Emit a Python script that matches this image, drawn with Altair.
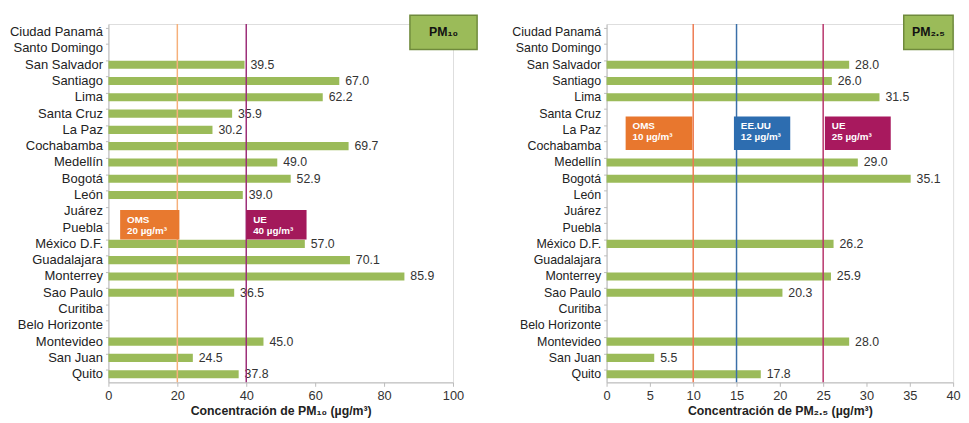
import altair as alt
import pandas as pd

cities = ["Ciudad Panamá", "Santo Domingo", "San Salvador", "Santiago", "Lima",
          "Santa Cruz", "La Paz", "Cochabamba", "Medellín", "Bogotá", "León",
          "Juárez", "Puebla", "México D.F.", "Guadalajara", "Monterrey",
          "Sao Paulo", "Curitiba", "Belo Horizonte", "Montevideo", "San Juan", "Quito"]
pm10 = [None, None, 39.5, 67.0, 62.2, 35.9, 30.2, 69.7, 49.0, 52.9, 39.0,
        None, None, 57.0, 70.1, 85.9, 36.5, None, None, 45.0, 24.5, 37.8]
pm25 = [None, None, 28.0, 26.0, 31.5, None, None, None, 29.0, 35.1, None,
        None, None, 26.2, None, 25.9, 20.3, None, None, 28.0, 5.5, 17.8]

pm10_ticks = [0, 20, 40, 60, 80, 100]
pm25_ticks = [0, 5, 10, 15, 20, 25, 30, 35, 40]

pm10_limits = [("OMS", "20 µg/m³", 20), ("UE", "40 µg/m³", 40)]
pm25_limits = [("OMS", "10 µg/m³", 10), ("EE.UU", "12 µg/m³", 15), ("UE", "25 µg/m³", 25)]

FONT = "Liberation Sans"
GREEN = "#9BBB59"
H = 364


def one_row():
    return alt.Chart(alt.Data(values=[{"a": 1}]))


def box(x0, x1, y0, y1, fill, lines, size=10):
    rect = one_row().mark_rect(color=fill).encode(
        x=alt.datum(x0), x2=alt.datum(x1), y=alt.value(y0), y2=alt.value(y1))
    out = [rect]
    for i, t in enumerate(lines):
        out.append(one_row().mark_text(
            text=t, align="left", baseline="middle", color="white",
            fontWeight="bold", fontSize=size, font=FONT, dx=7).encode(
            x=alt.datum(x0), y=alt.value(y0 + 10 + i * 11)))
    return out


def tag(x0, x1, label):
    rect = one_row().mark_rect(color=GREEN, stroke="#6F8A3C", strokeWidth=1.5).encode(
        x=alt.datum(x0), x2=alt.datum(x1), y=alt.value(-9), y2=alt.value(26))
    txt = one_row().mark_text(text=label, align="center", baseline="middle",
                              fontWeight="bold", fontSize=12.5, font=FONT, color="#111").encode(
        x=alt.datum((x0 + x1) / 2), y=alt.value(8.5))
    return [rect, txt]


def panel(values, ticks, xmax, title, limits, line_colors, box_specs, tag_span, tag_label,
          width, ylab_size):
    df = pd.DataFrame({"city": cities, "value": values})
    base = alt.Chart(df)
    xscale = alt.Scale(domain=[0, xmax], nice=False)
    yenc = alt.Y("city:N", sort=cities,
                 scale=alt.Scale(domain=cities, paddingInner=0.5, paddingOuter=0.25),
                 axis=alt.Axis(title=None, labelFont=FONT, labelFontSize=ylab_size,
                               labelColor="#222", tickSize=3, tickColor="#BBBBBB",
                               domainColor="#BBBBBB", labelPadding=3, bandPosition=0))
    bars = base.mark_bar(color=GREEN).encode(
        x=alt.X("value:Q", scale=xscale,
                axis=alt.Axis(values=ticks, title=title, grid=False, labelFont=FONT,
                              labelFontSize=13, labelColor="#333", tickSize=4,
                              labelFlush=False,
                              tickColor="#BBBBBB", domainColor="#BBBBBB",
                              titleFont=FONT, titleFontSize=12.5, titleFontWeight="bold",
                              titleColor="#222", titlePadding=3, labelPadding=3)),
        y=yenc)
    labels = base.mark_text(align="left", baseline="middle", dx=6, font=FONT,
                            fontSize=12.5, color="#333").encode(
        x=alt.X("value:Q", scale=xscale),
        y=alt.Y("city:N", sort=cities),
        text=alt.Text("value:Q", format=".1f"))
    layers = [bars, labels]
    for (name, txt, v), col in zip(limits, line_colors):
        layers.append(one_row().mark_rule(color=col, strokeWidth=1.5).encode(x=alt.datum(v)))
    for (name, txt, v), (x0, x1, y0, y1, fill) in zip(limits, box_specs):
        layers += box(x0, x1, y0, y1, fill, [name, txt])
    layers += tag(tag_span[0], tag_span[1], tag_label)
    return alt.layer(*layers).properties(width=width, height=H)


left = panel(pm10, pm10_ticks, 100, "Concentración de PM₁₀ (µg/m³)", pm10_limits,
             ["#F6B07A", "#9C2E78"],
             [(3.4, 20.6, 189, 219, "#E8792F"), (40.0, 57.5, 189, 219, "#A3195B")],
             (87.5, 107.0), "PM₁₀", 350, 13.2)
right = panel(pm25, pm25_ticks, 40, "Concentración de PM₂.₅ (µg/m³)", pm25_limits,
              ["#EE7A50", "#3A6FA8", "#B8336A"],
              [(2.2, 9.9, 94, 128, "#E8772E"), (14.7, 21.2, 94, 128, "#2D6DB0"),
               (25.2, 32.8, 94, 128, "#A8195E")],
              (34.3, 40.0), "PM₂.₅", 352, 12.6)

chart = alt.hconcat(left, right, spacing=156, bounds="flush").properties(
    padding={"top": 2, "left": 0, "right": 0, "bottom": 0}
).configure_view(stroke=None).configure(font=FONT)

chart.save("out.html", embed_options={"renderer": "svg", "actions": False})
